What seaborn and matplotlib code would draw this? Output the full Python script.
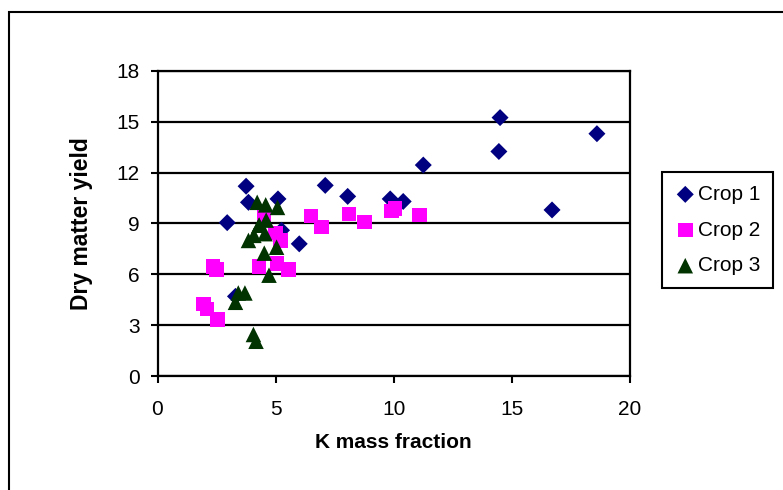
import pandas as pd
import matplotlib.pyplot as plt
import seaborn as sns
from matplotlib.patches import Rectangle

# Crop 1 (diamonds)
k_crop1 = [2.95, 3.75, 3.85, 5.1, 5.25, 3.3, 6.0, 7.1, 8.05, 9.85, 10.4, 11.25, 14.45, 14.5, 16.7, 18.6]
y_crop1 = [9.05, 11.2, 10.25, 10.45, 8.6, 4.7, 7.8, 11.25, 10.6, 10.45, 10.3, 12.45, 13.25, 15.25, 9.8, 14.3]

# Crop 2 (squares)
k_crop2 = [1.95, 2.1, 2.55, 2.35, 2.5, 4.3, 5.05, 5.55, 5.2, 5.0, 4.5, 6.5, 6.95, 8.1, 8.75, 9.9, 10.05, 11.1]
y_crop2 = [4.25, 3.95, 3.35, 6.45, 6.3, 6.45, 6.65, 6.3, 8.0, 8.45, 9.45, 9.45, 8.8, 9.55, 9.1, 9.75, 9.9, 9.5]

# Crop 3 (triangles)
k_crop3 = [3.3, 3.42, 3.7, 4.06, 4.17, 3.85, 4.08, 4.3, 4.55, 4.22, 4.58, 5.08, 4.3, 4.6, 5.04, 4.52, 4.72]
y_crop3 = [4.35, 4.9, 4.9, 2.45, 2.05, 8.0, 8.3, 8.9, 8.4, 10.25, 10.1, 9.95, 8.9, 9.2, 7.6, 7.25, 5.95]

crops = ['Crop 1', 'Crop 2', 'Crop 3']
colors = {'Crop 1': '#000080', 'Crop 2': '#FF00FF', 'Crop 3': '#003300'}
markers = {'Crop 1': 'D', 'Crop 2': 's', 'Crop 3': '^'}
sizes = {'Crop 1': 75, 'Crop 2': 110, 'Crop 3': 125}

df = pd.DataFrame({
    'K': k_crop1 + k_crop2 + k_crop3,
    'Yield': y_crop1 + y_crop2 + y_crop3,
    'Crop': ['Crop 1'] * len(k_crop1) + ['Crop 2'] * len(k_crop2) + ['Crop 3'] * len(k_crop3),
})

sns.set_style('white')
plt.rcParams['font.family'] = ['Liberation Sans', 'DejaVu Sans']
plt.rcParams['text.color'] = 'black'
plt.rcParams['axes.labelcolor'] = 'black'
plt.rcParams['xtick.color'] = 'black'
plt.rcParams['ytick.color'] = 'black'

fig = plt.figure(figsize=(7.83, 4.9), dpi=100)
ax = fig.add_axes([157.5 / 783, 1 - 376 / 490, (630 - 157.5) / 783, (376 - 71) / 490])

# outer chart border (runs off the right and bottom edges like the original)
fig.patches.append(Rectangle((9 / 783, -0.1), 1.0, 1 - 12 / 490 + 0.1, transform=fig.transFigure,
                             fill=False, edgecolor='black', linewidth=1.5, zorder=0))

for crop in crops:
    sns.scatterplot(data=df[df['Crop'] == crop], x='K', y='Yield', ax=ax,
                    color=colors[crop], marker=markers[crop], s=sizes[crop],
                    edgecolor='none', linewidth=0, label=crop, zorder=3)

ax.set_xlim(0, 20)
ax.set_ylim(0, 18)
ax.set_xticks([0, 5, 10, 15, 20])
ax.set_yticks([0, 3, 6, 9, 12, 15, 18])
ax.yaxis.grid(True, color='black', linewidth=1.6)
ax.set_axisbelow(True)
for sp in ax.spines.values():
    sp.set_visible(True)
    sp.set_color('black')
    sp.set_linewidth(1.6)
ax.tick_params(axis='both', direction='out', length=5, width=1.5, color='black',
               labelsize=15, bottom=True, left=True)
ax.tick_params(axis='x', pad=12)
ax.tick_params(axis='y', pad=8)

ax.set_xlabel('K mass fraction', fontsize=15, fontweight='bold', labelpad=10)
ax.set_ylabel('Dry matter yield', fontsize=16.5, fontweight='bold', labelpad=17)

leg = ax.legend(loc='center', bbox_to_anchor=(717.5 / 783, 1 - 230 / 490), bbox_transform=fig.transFigure,
                fontsize=15, frameon=True, fancybox=False, framealpha=1.0, handletextpad=0.1,
                handlelength=1.0, labelspacing=0.8, borderpad=0.6, borderaxespad=0, markerscale=1.0)
leg.get_frame().set_edgecolor('black')
leg.get_frame().set_linewidth(1.5)

fig.savefig('out.png', dpi=100)
